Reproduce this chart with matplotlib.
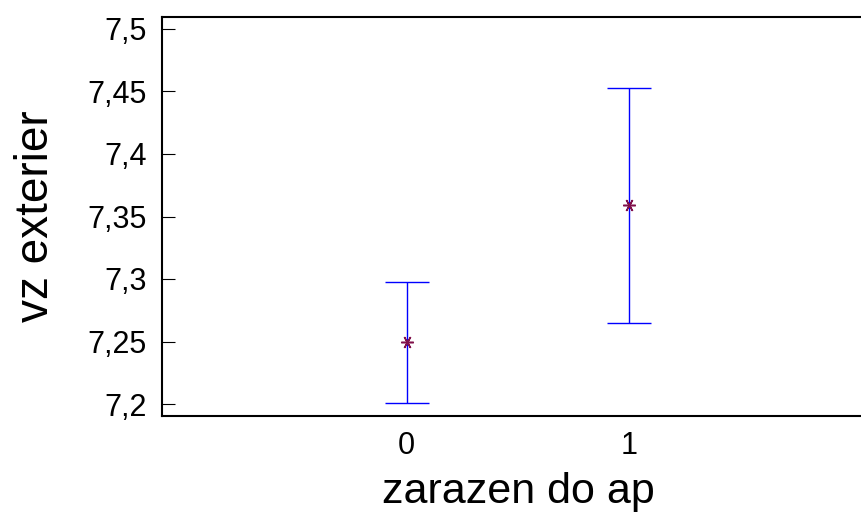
import matplotlib
matplotlib.use("Agg")
import matplotlib.pyplot as plt
from matplotlib.ticker import FuncFormatter

# group means and interval limits
groups = [0, 1]
means = [7.250, 7.359]
lower = [7.201, 7.265]
upper = [7.298, 7.453]
yticks = [7.2, 7.25, 7.3, 7.35, 7.4, 7.45, 7.5]

plt.rcParams['font.family'] = ['Liberation Sans', 'DejaVu Sans']

fig = plt.figure(figsize=(8.62, 5.25), dpi=100)
ax = fig.add_axes([162 / 862, 109 / 525, 712 / 862, 399 / 525])

err = [[m - lo for m, lo in zip(means, lower)],
       [hi - m for m, hi in zip(means, upper)]]
ax.errorbar(groups, means, yerr=err, fmt='none', ecolor='#0000ff',
            elinewidth=1.0, capsize=16, capthick=1.0)
ax.plot(groups, means, linestyle='none', marker=(6, 2, 90),
        markersize=9, markeredgewidth=1.1, color='#80104a')

ax.set_xlim(-1.1, 2.1)
ax.set_ylim(7.1904, 7.5096)
ax.set_xticks(groups)
ax.set_yticks(yticks)
ax.yaxis.set_major_formatter(FuncFormatter(lambda v, p: f"{v:g}".replace('.', ',')))

ax.tick_params(axis='y', direction='in', length=9.5, width=0.8,
               right=True, labelsize=22, pad=11)
ax.tick_params(axis='x', length=0, labelsize=22, pad=11)
for s in ax.spines.values():
    s.set_linewidth(1.5)

ax.set_xlabel("zarazen do ap", fontsize=31, labelpad=8)
ax.set_ylabel("vz exterier", fontsize=33, labelpad=21)

fig.savefig("out.png", dpi=100)
